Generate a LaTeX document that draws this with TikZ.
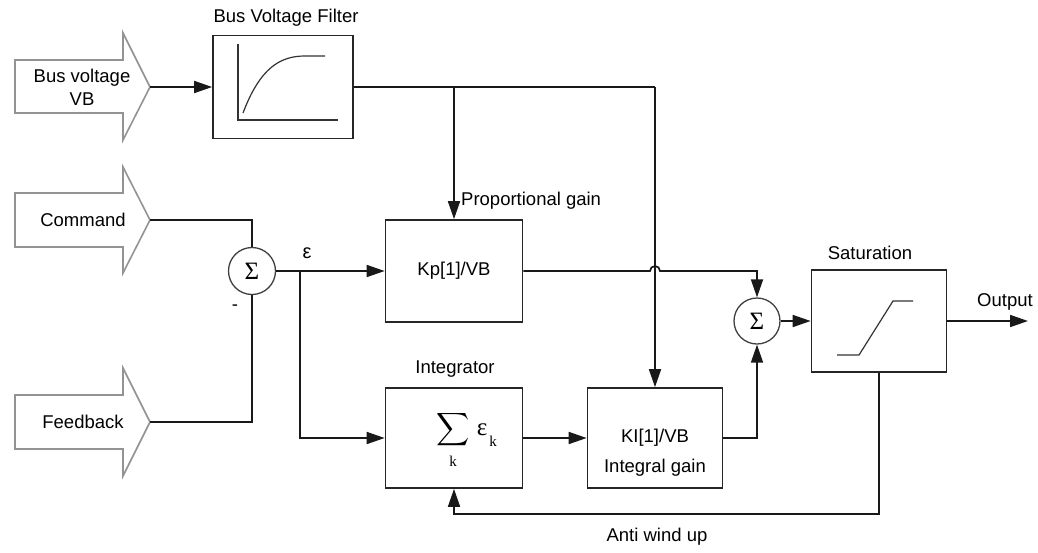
\documentclass[tikz,border=0pt]{standalone}
\usepackage{graphicx}
\usepackage{fontspec}
\setmainfont{Liberation Sans}
\newfontfamily\serifgr{Liberation Serif}
\usetikzlibrary{arrows.meta}
\begin{document}
\begin{tikzpicture}[x=1pt,y=-1pt,
  every node/.style={font=\fontsize{18.5}{22}\selectfont, inner sep=0pt},
  blk/.style={draw=black!85, line width=1.7pt, fill=white, minimum width=#1},
  sumnode/.style={draw=black!75, circle, line width=1.3pt, minimum size=47pt, font=\serifgr\fontsize{25}{25}\selectfont},
  bigarrow/.style={draw=gray!85, line width=1.6pt, fill=white, line join=miter},
  conn/.style={line width=1.7pt, black!90},
  arr/.style={conn, -{Triangle[length=18pt,width=12pt]}},
  thin/.style={line width=1.2pt, black!80}
]
\useasboundingbox (0,0) rectangle (1038,552);

% big input arrows
\draw[bigarrow] (15,60) -- (123,60) -- (123,33) -- (150,87) -- (123,140) -- (123,113) -- (15,113) -- cycle;
\draw[bigarrow] (15,193) -- (123,193) -- (123,167) -- (150,220) -- (123,273) -- (123,247) -- (15,247) -- cycle;
\draw[bigarrow] (15,395) -- (123,395) -- (123,368) -- (150,422) -- (123,476) -- (123,449) -- (15,449) -- cycle;
\coordinate (bvtip) at (150,87);
\coordinate (cmdtip) at (150,220);
\coordinate (fbtip) at (150,422);
\node[align=center, font=\fontsize{18.5}{23}\selectfont] (bvtxt) at (82,87) {Bus voltage\\VB};
\node (cmdtxt) at (83,220) {Command};
\node (fbtxt) at (83,422) {Feedback};

% blocks
\node[blk=140pt, minimum height=103pt] (filt) at (283,87) {};
\node (filtlbl) at (286,18) {Bus Voltage Filter};
\draw[thin] (238,44) -- (238,120) -- (338,120);
\draw[thin] (243,113) .. controls (260,68) and (280,56) .. (305,56) -- (325,56);

\node[blk=137pt, minimum height=102pt] (kp) at (454,271) {Kp[1]/VB};
\node[anchor=west] (kplbl) at (461,201) {Proportional gain};

\node[blk=137pt, minimum height=100pt] (int) at (454,438) {};
\node (intlbl) at (455,369) {Integrator};
\node (sig) at (453,430) {\scalebox{2.3}{$\displaystyle\sum$}};
\node[font=\serifgr\fontsize{15}{15}\selectfont] (sigk) at (453,461) {k};
\node[font=\serifgr\fontsize{25}{25}\selectfont] (epsk) at (482,430) {ε};
\node[font=\serifgr\fontsize{15}{15}\selectfont] (epsksub) at (493,441) {k};

\node[blk=135pt, minimum height=100pt] (ki) at (655,438) {};
\node (kitxt) at (655,438) {KI[1]/VB};
\node (kigain) at (655,468) {Integral gain};

\node[blk=135pt, minimum height=102pt] (sat) at (879,321) {};
\node (satlbl) at (870,253) {Saturation};
\draw[thin] (837,355) -- (859,355) -- (893,301) -- (913,301);

% summing junctions
\node[sumnode] (s1) at (252,271) {Σ};
\node[sumnode, minimum size=46pt] (s2) at (757,321) {Σ};
\node (minus) at (235,308) {-};
\node[font=\fontsize{20}{22}\selectfont] (eps) at (307,253) {ε};

% labels
\node (outlbl) at (1005,302) {Output};
\node (awlbl) at (657,537) {Anti wind up};

% connectors
\coordinate (j1) at (454,87);
\coordinate (j2) at (655,87);
\coordinate (e) at (300,271);
\coordinate (outend) at (1028,321);

\draw[arr] (bvtip) -- (filt.west);
\draw[conn] (filt.east) -- (j2);
\draw[arr] (j1) -- (kp.north);
\draw[arr] (j2) -- (ki.north);
\draw[conn] (cmdtip) -| (s1.north);
\draw[conn] (fbtip) -| (s1.south);
\draw[arr] (s1.east) -- (kp.west);
\draw[arr] (e) |- (int.west);
\draw[arr] (int.east) -- (ki.west);
\draw[arr] (kp.east) -- (650,271) arc[start angle=180, end angle=0, radius=5pt] -- (757,271) -- (s2.north);
\draw[arr] (ki.east) -| (s2.south);
\draw[arr] (s2.east) -- (sat.west);
\draw[arr] (sat.east) -- (outend);
\draw[arr] (sat.south) -- ++(0,141) -| (int.south);
\end{tikzpicture}
\end{document}
